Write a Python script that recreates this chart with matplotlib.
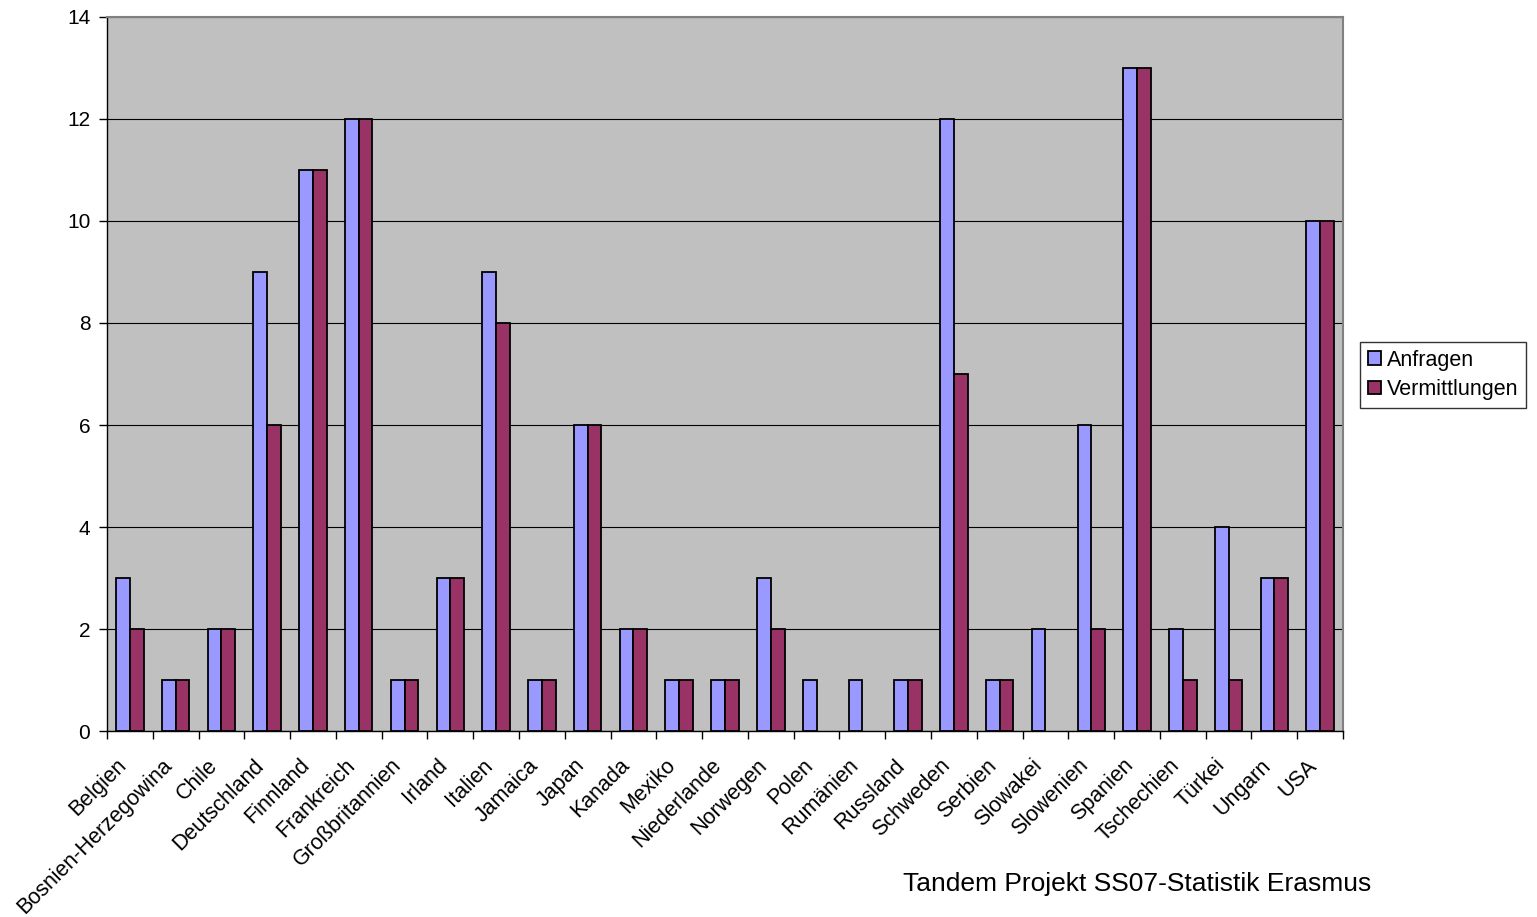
import numpy as np
import matplotlib.pyplot as plt
import matplotlib.transforms as mtransforms

plt.rcParams['font.family'] = ['Liberation Sans', 'DejaVu Sans']

laender = ['Belgien', 'Bosnien-Herzegowina', 'Chile', 'Deutschland', 'Finnland',
           'Frankreich', 'Großbritannien', 'Irland', 'Italien', 'Jamaica', 'Japan',
           'Kanada', 'Mexiko', 'Niederlande', 'Norwegen', 'Polen', 'Rumänien',
           'Russland', 'Schweden', 'Serbien', 'Slowakei', 'Slowenien', 'Spanien',
           'Tschechien', 'Türkei', 'Ungarn', 'USA']
anfragen = [3, 1, 2, 9, 11, 12, 1, 3, 9, 1, 6, 2, 1, 1, 3, 1, 1, 1, 12, 1, 2, 6, 13, 2, 4, 3, 10]
vermittlungen = [2, 1, 2, 6, 11, 12, 1, 3, 8, 1, 6, 2, 1, 1, 2, 0, 0, 1, 7, 1, 0, 2, 13, 1, 1, 3, 10]

fig = plt.figure(figsize=(15.37, 9.17), dpi=100)
ax = fig.add_axes([0.0696, 0.2028, 0.8042, 0.7787])
ax.set_facecolor('#C0C0C0')

x = np.arange(len(laender))
w = 0.3
b1 = ax.bar(x - w/2, anfragen, w, color='#9999FF', edgecolor='black', linewidth=1.3,
            label='Anfragen', zorder=3)
b2 = ax.bar(x + w/2, vermittlungen, w, color='#993366', edgecolor='black', linewidth=1.3,
            label='Vermittlungen', zorder=3)
# empty bars should not leave an outline on the axis
for rect, v in zip(b2, vermittlungen):
    if v == 0:
        rect.set_visible(False)

ax.set_xlim(-0.5, len(laender) - 0.5)
ax.set_ylim(0, 14)
ax.set_yticks(range(0, 15, 2))
ax.yaxis.grid(True, color='black', linewidth=0.8, zorder=1)
ax.set_axisbelow(True)

# ticks between the groups, labels under the group centres
ax.set_xticks(np.arange(len(laender) + 1) - 0.5)
ax.set_xticklabels([])
ax.set_xticks(x, minor=True)
ax.set_xticklabels(laender, minor=True, rotation=45, ha='right',
                   rotation_mode='anchor', fontsize=15.5)
ax.tick_params(axis='x', which='minor', length=0, pad=10)
ax.tick_params(axis='x', which='major', length=6, width=1, direction='out')
ax.tick_params(axis='y', length=6, width=1, direction='out', labelsize=15, pad=6)

shift = mtransforms.ScaledTranslation(-14/100, -10/100, fig.dpi_scale_trans)
for lab in ax.get_xticklabels(minor=True):
    lab.set_transform(lab.get_transform() + shift)

for s in ['top', 'right']:
    ax.spines[s].set_color('#808080')
    ax.spines[s].set_linewidth(1.5)
for s in ['left', 'bottom']:
    ax.spines[s].set_color('black')
    ax.spines[s].set_linewidth(1)

leg = fig.legend(handles=[b1, b2], loc='upper left', bbox_to_anchor=(0.8849, 0.627),
                 fontsize=15.5, frameon=True, fancybox=False, edgecolor='black',
                 handlelength=0.6, handleheight=0.6, handletextpad=0.3,
                 borderpad=0.35, labelspacing=0.4, borderaxespad=0)
leg.get_frame().set_linewidth(1)

fig.text(0.740, 0.036, 'Tandem Projekt SS07-Statistik Erasmus', ha='center',
         va='center', fontsize=19)

fig.savefig('out.png', dpi=100)
